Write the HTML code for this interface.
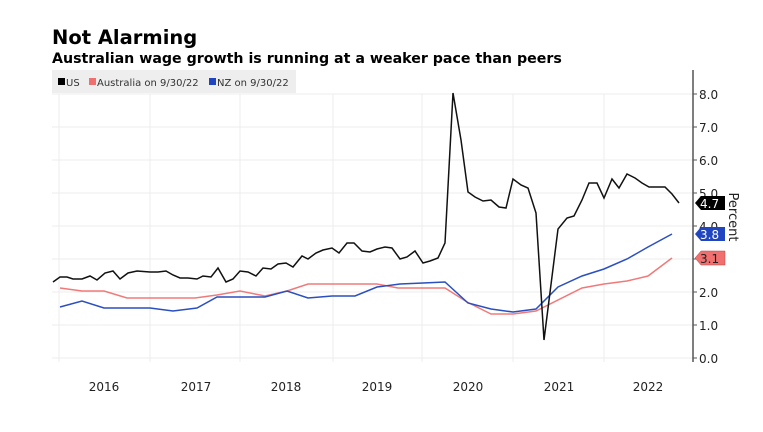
<!DOCTYPE html>
<html><head><meta charset="utf-8"><style>
body{margin:0;background:#fff;width:763px;height:428px;overflow:hidden;font-family:"DejaVu Sans","Liberation Sans",sans-serif;}
</style></head><body>
<svg width="763" height="428" xmlns="http://www.w3.org/2000/svg" font-family="DejaVu Sans, Liberation Sans, sans-serif">
<text x="52" y="44" font-size="19.5" font-weight="bold" fill="#000">Not Alarming</text>
<text x="52" y="63" font-size="14.2" font-weight="bold" fill="#000">Australian wage growth is running at a weaker pace than peers</text>
<rect x="52" y="70" width="244" height="23" fill="#eeeeee"/>
<rect x="58" y="78" width="7" height="7" fill="#000"/><text x="66" y="86" font-size="10" fill="#333">US</text>
<rect x="89" y="78" width="7" height="7" fill="#f07070"/><text x="97" y="86" font-size="10" fill="#333">Australia on 9/30/22</text>
<rect x="209" y="78" width="7" height="7" fill="#1f45c0"/><text x="217" y="86" font-size="10" fill="#333">NZ on 9/30/22</text>
<g stroke="#ececec" stroke-width="1">
<line x1="52" x2="693" y1="94" y2="94"/><line x1="52" x2="693" y1="127" y2="127"/><line x1="52" x2="693" y1="160" y2="160"/><line x1="52" x2="693" y1="193" y2="193"/><line x1="52" x2="693" y1="226" y2="226"/><line x1="52" x2="693" y1="259" y2="259"/><line x1="52" x2="693" y1="292" y2="292"/><line x1="52" x2="693" y1="325" y2="325"/><line x1="52" x2="693" y1="358" y2="358"/>
<line x1="59" x2="59" y1="94" y2="362"/><line x1="150" x2="150" y1="94" y2="362"/><line x1="240" x2="240" y1="94" y2="362"/><line x1="333" x2="333" y1="94" y2="362"/><line x1="422" x2="422" y1="94" y2="362"/><line x1="513" x2="513" y1="94" y2="362"/><line x1="604" x2="604" y1="94" y2="362"/>
</g>
<line x1="693" x2="693" y1="70" y2="362" stroke="#555" stroke-width="1.5"/>
<g stroke="#555" stroke-width="1">
<line x1="693" x2="697" y1="94" y2="94"/><line x1="693" x2="697" y1="127" y2="127"/><line x1="693" x2="697" y1="160" y2="160"/><line x1="693" x2="697" y1="193" y2="193"/><line x1="693" x2="697" y1="226" y2="226"/><line x1="693" x2="697" y1="259" y2="259"/><line x1="693" x2="697" y1="292" y2="292"/><line x1="693" x2="697" y1="325" y2="325"/><line x1="693" x2="697" y1="358" y2="358"/>
</g>
<g font-size="12" fill="#222">
<text x="699" y="99">8.0</text><text x="699" y="132">7.0</text><text x="699" y="165">6.0</text><text x="699" y="198">5.0</text><text x="699" y="231">4.0</text><text x="699" y="297">2.0</text><text x="699" y="330">1.0</text><text x="699" y="363">0.0</text>
</g>
<g font-size="12" fill="#222" text-anchor="middle">
<text x="104" y="391">2016</text><text x="196" y="391">2017</text><text x="286" y="391">2018</text><text x="377" y="391">2019</text><text x="468" y="391">2020</text><text x="559" y="391">2021</text><text x="648" y="391">2022</text>
</g>
<polyline fill="none" stroke="#f07a7a" stroke-width="1.5" points="60,288 82,291 104,291 127,298 150,298 195,298 217,295 240,291 265,296 287,291 308,284 377,284 398,288 445,288 467,302 491,314 513,314 536,311 582,288 604,284 627,281 648,276 672,258"/>
<polyline fill="none" stroke="#2a4fbf" stroke-width="1.5" points="60,307 82,301 104,308 150,308 173,311 197,308 217,297 240,297 265,297 287,291 308,298 332,296 355,296 377,287 400,284 423,283 445,282 468,303 491,309 513,312 536,309 558,287 582,276 604,269 627,259 648,247 672,234"/>
<polyline fill="none" stroke="#111" stroke-width="1.5" points="53,282 60,277 67,277 73,279 82,279 90,276 97,280 105,273 113,271 120,279 128,273 137,271 150,272 158,272 166,271 173,275 180,278 188,278 197,279 203,276 211,277 218,268 226,282 233,279 240,271 248,272 256,276 263,268 271,269 278,264 286,263 293,267 302,256 308,259 316,253 323,250 332,248 339,253 347,243 354,243 362,251 370,252 377,249 385,247 392,248 400,259 407,257 415,251 423,263 430,261 438,258 445,243 453,93 461,140 468,192 475,197 483,201 491,200 499,207 506,208 513,179 521,185 528,188 536,213 544,340 558,229 567,218 574,216 582,200 589,183 597,183 604,198 612,179 619,188 627,174 635,178 642,183 649,187 657,187 665,187 672,194 679,203"/>
<g font-size="12">
<polygon points="695,203 701,196 725,196 725,210 701,210" fill="#000"/><text x="700" y="208" fill="#fff">4.7</text>
<polygon points="695,234 701,227 725,227 725,241 701,241" fill="#1f45c0"/><text x="700" y="239" fill="#fff">3.8</text>
<polygon points="695,258 701,251 725,251 725,265 701,265" fill="#f07070" stroke="#c04040" stroke-width="0.5"/><text x="700" y="263" fill="#222">3.1</text>
</g>
<text transform="translate(729,217) rotate(90)" font-size="13" fill="#222" text-anchor="middle">Percent</text>
</svg>
</body></html>
